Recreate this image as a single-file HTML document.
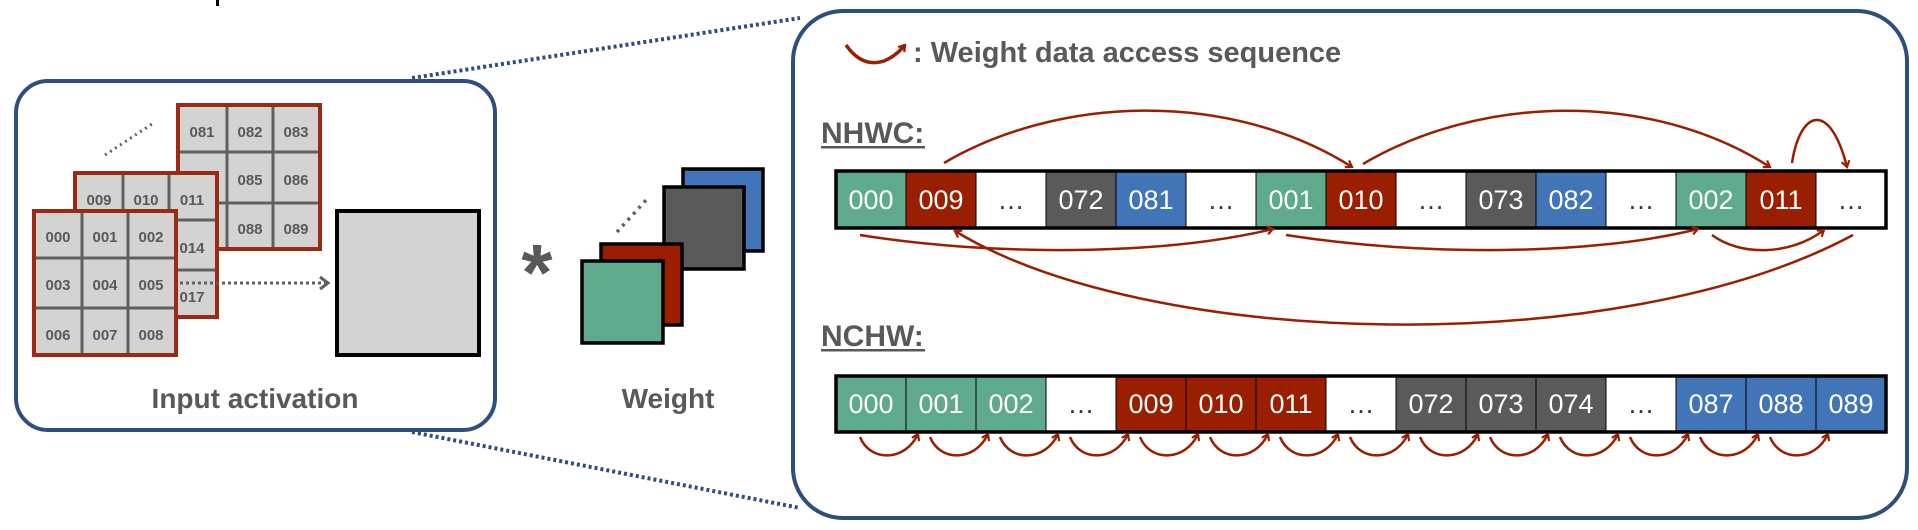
<!DOCTYPE html>
<html><head><meta charset="utf-8"><style>
html,body{margin:0;padding:0;background:#fff;}
svg{display:block;}
text{font-family:"Liberation Sans",sans-serif;}
</style></head><body>
<svg width="1918" height="530" viewBox="0 0 1918 530" xmlns="http://www.w3.org/2000/svg">
<defs>
<marker id="ah" markerWidth="10" markerHeight="10" refX="7" refY="5" orient="auto" markerUnits="userSpaceOnUse">
<path d="M1,1 L7,5 L1,9" fill="none" stroke="#9a1e00" stroke-width="2.2"/>
</marker>
<marker id="ga" markerWidth="14" markerHeight="16" refX="10" refY="8" orient="auto" markerUnits="userSpaceOnUse">
<path d="M2,2 L10,8 L2,14" fill="none" stroke="#606060" stroke-width="3"/>
</marker>
</defs>
<rect x="216" y="0" width="3" height="6" fill="#000"/>
<line x1="412" y1="78" x2="800" y2="18" stroke="#2e4e7e" stroke-width="4" stroke-dasharray="3,3"/>
<line x1="412" y1="432" x2="800" y2="508" stroke="#2e4e7e" stroke-width="4" stroke-dasharray="3,3"/>
<rect x="16" y="81" width="479" height="349" rx="32" fill="#fff" stroke="#2e4e7e" stroke-width="4"/>
<line x1="105" y1="155" x2="152" y2="124" stroke="#606060" stroke-width="3" stroke-dasharray="2,4"/>
<g>
<rect x="178" y="105" width="142" height="144" fill="#d3d3d3" stroke="#9b2a14" stroke-width="4"/>
<line x1="227" y1="107" x2="227" y2="247" stroke="#606060" stroke-width="3"/>
<line x1="273" y1="107" x2="273" y2="247" stroke="#606060" stroke-width="3"/>
<line x1="180" y1="152" x2="318" y2="152" stroke="#606060" stroke-width="3"/>
<line x1="180" y1="203" x2="318" y2="203" stroke="#606060" stroke-width="3"/>
<g font-size="15" font-weight="bold" fill="#595959" text-anchor="middle">
<text x="202" y="137">081</text><text x="250" y="137">082</text><text x="296" y="137">083</text>
<text x="250" y="185">085</text><text x="296" y="185">086</text>
<text x="250" y="234">088</text><text x="296" y="234">089</text>
</g>
</g>
<g>
<rect x="75" y="173" width="142" height="144" fill="#d3d3d3" stroke="#9b2a14" stroke-width="4"/>
<line x1="123" y1="175" x2="123" y2="315" stroke="#606060" stroke-width="3"/>
<line x1="169" y1="175" x2="169" y2="315" stroke="#606060" stroke-width="3"/>
<line x1="77" y1="220" x2="215" y2="220" stroke="#606060" stroke-width="3"/>
<line x1="77" y1="270" x2="215" y2="270" stroke="#606060" stroke-width="3"/>
<g font-size="15" font-weight="bold" fill="#595959" text-anchor="middle">
<text x="99" y="205">009</text><text x="146" y="205">010</text><text x="192" y="205">011</text>
<text x="192" y="253">014</text><text x="192" y="302">017</text>
</g>
</g>
<g>
<rect x="34" y="211" width="142" height="144" fill="#d3d3d3" stroke="#9b2a14" stroke-width="4"/>
<line x1="82" y1="213" x2="82" y2="353" stroke="#606060" stroke-width="3"/>
<line x1="128" y1="213" x2="128" y2="353" stroke="#606060" stroke-width="3"/>
<line x1="36" y1="258" x2="174" y2="258" stroke="#606060" stroke-width="3"/>
<line x1="36" y1="308" x2="174" y2="308" stroke="#606060" stroke-width="3"/>
<g font-size="15" font-weight="bold" fill="#595959" text-anchor="middle">
<text x="58" y="242">000</text><text x="105" y="242">001</text><text x="151" y="242">002</text>
<text x="58" y="290">003</text><text x="105" y="290">004</text><text x="151" y="290">005</text>
<text x="58" y="340">006</text><text x="105" y="340">007</text><text x="151" y="340">008</text>
</g>
</g>
<line x1="180" y1="283" x2="328" y2="283" stroke="#606060" stroke-width="3" stroke-dasharray="3,3" marker-end="url(#ga)"/>
<rect x="337" y="211" width="142" height="144" fill="#d3d3d3" stroke="#000" stroke-width="4"/>
<text x="537" y="300" font-size="80" font-weight="bold" fill="#595959" text-anchor="middle">*</text>
<line x1="617" y1="232" x2="648" y2="198" stroke="#606060" stroke-width="3.5" stroke-dasharray="3,5"/>
<rect x="683" y="169" width="80" height="82" fill="#4274b8" stroke="#000" stroke-width="3.5"/>
<rect x="664" y="187" width="80" height="82" fill="#5a5a5a" stroke="#000" stroke-width="3.5"/>
<rect x="601" y="244" width="81" height="81" fill="#9a1e00" stroke="#000" stroke-width="3.5"/>
<rect x="582" y="261" width="81" height="82" fill="#5fa98c" stroke="#000" stroke-width="3.5"/>
<g font-size="28" font-weight="bold" fill="#595959" text-anchor="middle">
<text x="255" y="408">Input activation</text>
<text x="668" y="408">Weight</text>
</g>
<rect x="793" y="11" width="1114" height="507" rx="50" fill="#fff" stroke="#2e4e7e" stroke-width="4"/>
<path d="M846,45 Q862,68 884,61 Q896,56 905,45" fill="none" stroke="#9a1e00" stroke-width="3.5" marker-end="url(#ah)"/>
<text x="913" y="62" font-size="29" font-weight="bold" fill="#595959">: Weight data access sequence</text>
<text x="821" y="143" font-size="30" font-weight="bold" fill="#595959">NHWC:</text>
<rect x="821" y="146" width="104" height="2.5" fill="#595959"/>
<text x="821" y="346" font-size="30" font-weight="bold" fill="#595959">NCHW:</text>
<rect x="821" y="349" width="104" height="2.5" fill="#595959"/>
<g font-size="27" fill="#fff" text-anchor="middle">
<rect x="836" y="171" width="70" height="57" fill="#5fa98c"/><text x="871" y="209">000</text>
<rect x="906" y="171" width="70" height="57" fill="#9a1e00"/><text x="941" y="209">009</text>
<rect x="976" y="171" width="70" height="57" fill="#fff"/><text x="1011" y="209" fill="#333">…</text>
<rect x="1046" y="171" width="70" height="57" fill="#5a5a5a"/><text x="1081" y="209">072</text>
<rect x="1116" y="171" width="70" height="57" fill="#4274b8"/><text x="1151" y="209">081</text>
<rect x="1186" y="171" width="70" height="57" fill="#fff"/><text x="1221" y="209" fill="#333">…</text>
<rect x="1256" y="171" width="70" height="57" fill="#5fa98c"/><text x="1291" y="209">001</text>
<rect x="1326" y="171" width="70" height="57" fill="#9a1e00"/><text x="1361" y="209">010</text>
<rect x="1396" y="171" width="70" height="57" fill="#fff"/><text x="1431" y="209" fill="#333">…</text>
<rect x="1466" y="171" width="70" height="57" fill="#5a5a5a"/><text x="1501" y="209">073</text>
<rect x="1536" y="171" width="70" height="57" fill="#4274b8"/><text x="1571" y="209">082</text>
<rect x="1606" y="171" width="70" height="57" fill="#fff"/><text x="1641" y="209" fill="#333">…</text>
<rect x="1676" y="171" width="70" height="57" fill="#5fa98c"/><text x="1711" y="209">002</text>
<rect x="1746" y="171" width="70" height="57" fill="#9a1e00"/><text x="1781" y="209">011</text>
<rect x="1816" y="171" width="70" height="57" fill="#fff"/><text x="1851" y="209" fill="#333">…</text>
</g>
<g stroke="#000" stroke-width="1">
<line x1="906" y1="171" x2="906" y2="228"/><line x1="976" y1="171" x2="976" y2="228"/><line x1="1046" y1="171" x2="1046" y2="228"/><line x1="1116" y1="171" x2="1116" y2="228"/><line x1="1186" y1="171" x2="1186" y2="228"/><line x1="1256" y1="171" x2="1256" y2="228"/><line x1="1326" y1="171" x2="1326" y2="228"/><line x1="1396" y1="171" x2="1396" y2="228"/><line x1="1466" y1="171" x2="1466" y2="228"/><line x1="1536" y1="171" x2="1536" y2="228"/><line x1="1606" y1="171" x2="1606" y2="228"/><line x1="1676" y1="171" x2="1676" y2="228"/><line x1="1746" y1="171" x2="1746" y2="228"/><line x1="1816" y1="171" x2="1816" y2="228"/>
</g>
<rect x="836" y="171" width="1050" height="57" fill="none" stroke="#000" stroke-width="3.5"/>
<g fill="none" stroke="#9a1e00" stroke-width="2.5" marker-end="url(#ah)">
<path d="M944,163 C1060,95 1230,90 1352,167"/>
<path d="M1363,164 C1480,95 1650,90 1770,167"/>
<path d="M1792,163 C1800,110 1830,100 1847,167"/>
<path d="M860,235 C990,256 1160,256 1273,229"/>
<path d="M1286,235 C1420,256 1590,256 1698,229"/>
<path d="M1712,235 C1740,256 1790,256 1824,230"/>
<path d="M1853,235 C1620,360 1150,350 955,231"/>
</g>
<g font-size="27" fill="#fff" text-anchor="middle">
<rect x="836" y="376" width="70" height="56" fill="#5fa98c"/><text x="871" y="413">000</text>
<rect x="906" y="376" width="70" height="56" fill="#5fa98c"/><text x="941" y="413">001</text>
<rect x="976" y="376" width="70" height="56" fill="#5fa98c"/><text x="1011" y="413">002</text>
<rect x="1046" y="376" width="70" height="56" fill="#fff"/><text x="1081" y="413" fill="#333">…</text>
<rect x="1116" y="376" width="70" height="56" fill="#9a1e00"/><text x="1151" y="413">009</text>
<rect x="1186" y="376" width="70" height="56" fill="#9a1e00"/><text x="1221" y="413">010</text>
<rect x="1256" y="376" width="70" height="56" fill="#9a1e00"/><text x="1291" y="413">011</text>
<rect x="1326" y="376" width="70" height="56" fill="#fff"/><text x="1361" y="413" fill="#333">…</text>
<rect x="1396" y="376" width="70" height="56" fill="#5a5a5a"/><text x="1431" y="413">072</text>
<rect x="1466" y="376" width="70" height="56" fill="#5a5a5a"/><text x="1501" y="413">073</text>
<rect x="1536" y="376" width="70" height="56" fill="#5a5a5a"/><text x="1571" y="413">074</text>
<rect x="1606" y="376" width="70" height="56" fill="#fff"/><text x="1641" y="413" fill="#333">…</text>
<rect x="1676" y="376" width="70" height="56" fill="#4274b8"/><text x="1711" y="413">087</text>
<rect x="1746" y="376" width="70" height="56" fill="#4274b8"/><text x="1781" y="413">088</text>
<rect x="1816" y="376" width="70" height="56" fill="#4274b8"/><text x="1851" y="413">089</text>
</g>
<g stroke="#000" stroke-width="1">
<line x1="906" y1="376" x2="906" y2="432"/><line x1="976" y1="376" x2="976" y2="432"/><line x1="1046" y1="376" x2="1046" y2="432"/><line x1="1116" y1="376" x2="1116" y2="432"/><line x1="1186" y1="376" x2="1186" y2="432"/><line x1="1256" y1="376" x2="1256" y2="432"/><line x1="1326" y1="376" x2="1326" y2="432"/><line x1="1396" y1="376" x2="1396" y2="432"/><line x1="1466" y1="376" x2="1466" y2="432"/><line x1="1536" y1="376" x2="1536" y2="432"/><line x1="1606" y1="376" x2="1606" y2="432"/><line x1="1676" y1="376" x2="1676" y2="432"/><line x1="1746" y1="376" x2="1746" y2="432"/><line x1="1816" y1="376" x2="1816" y2="432"/>
</g>
<rect x="836" y="376" width="1050" height="56" fill="none" stroke="#000" stroke-width="3.5"/>
<g fill="none" stroke="#9a1e00" stroke-width="2.5" marker-end="url(#ah)">
<path d="M860,437 C870,462 905,462 918,434"/>
<path d="M930,437 C940,462 975,462 988,434"/>
<path d="M1000,437 C1010,462 1045,462 1058,434"/>
<path d="M1070,437 C1080,462 1115,462 1128,434"/>
<path d="M1140,437 C1150,462 1185,462 1198,434"/>
<path d="M1210,437 C1220,462 1255,462 1268,434"/>
<path d="M1280,437 C1290,462 1325,462 1338,434"/>
<path d="M1350,437 C1360,462 1395,462 1408,434"/>
<path d="M1420,437 C1430,462 1465,462 1478,434"/>
<path d="M1490,437 C1500,462 1535,462 1548,434"/>
<path d="M1560,437 C1570,462 1605,462 1618,434"/>
<path d="M1630,437 C1640,462 1675,462 1688,434"/>
<path d="M1700,437 C1710,462 1745,462 1758,434"/>
<path d="M1770,437 C1780,462 1815,462 1828,434"/>
</g>
</svg>
</body></html>
